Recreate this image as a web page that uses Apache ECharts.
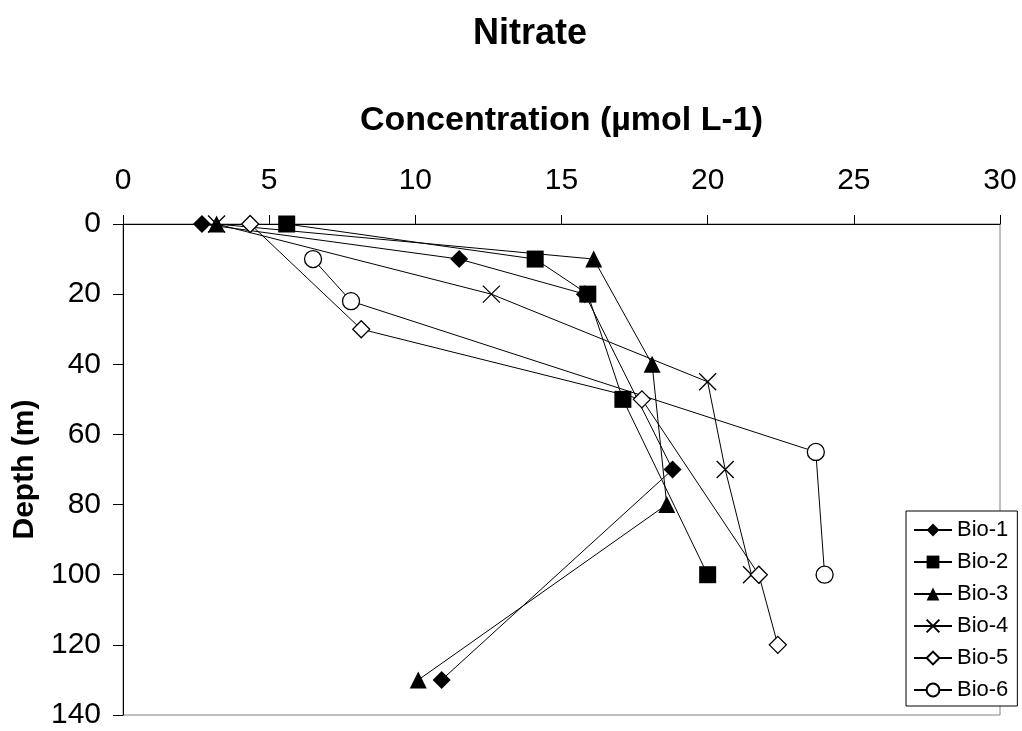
<!DOCTYPE html>
<html>
<head>
<meta charset="utf-8">
<script src="https://cdn.jsdelivr.net/npm/echarts@6/dist/echarts.min.js"></script>
<style>html,body{margin:0;padding:0;background:#fff;}#chart{width:1022px;height:731px;}</style>
</head>
<body>
<div id="chart"></div>
<script>
// Depth profiles: concentration (µmol L-1) at depth (m)
const seriesNames = ['Bio-1', 'Bio-2', 'Bio-3', 'Bio-4', 'Bio-5', 'Bio-6'];
const bio1Conc = [2.7, 11.5, 15.8, 18.8, 10.9];
const bio1Depth = [0, 10, 20, 70, 130];
const bio2Conc = [5.6, 14.1, 15.9, 17.1, 20.0];
const bio2Depth = [0, 10, 20, 50, 100];
const bio3Conc = [3.2, 16.1, 18.1, 18.6, 10.1];
const bio3Depth = [0, 10, 40, 80, 130];
const bio4Conc = [3.2, 12.6, 20.0, 20.6, 21.5];
const bio4Depth = [0, 20, 45, 70, 100];
const bio5Conc = [4.35, 8.15, 17.75, 21.75, 22.4];
const bio5Depth = [0, 30, 50, 100, 120];
const bio6Conc = [6.5, 7.8, 23.7, 24.0];
const bio6Depth = [10, 22, 65, 100];
const xTicks = [0, 5, 10, 15, 20, 25, 30];
const yTicks = [0, 20, 40, 60, 80, 100, 120, 140];

const FONT = '"Liberation Sans", Arial, sans-serif';
const pair = (c, d) => c.map((v, i) => [v, d[i]]);
const allData = [
  pair(bio1Conc, bio1Depth), pair(bio2Conc, bio2Depth), pair(bio3Conc, bio3Depth),
  pair(bio4Conc, bio4Depth), pair(bio5Conc, bio5Depth), pair(bio6Conc, bio6Depth)
];
const markers = [
  { symbol: 'diamond', size: 18, fill: '#000' },
  { symbol: 'rect', size: 17, fill: '#000' },
  { symbol: 'triangle', size: 17, fill: '#000' },
  { symbol: 'path://M0,0L10,10M10,0L0,10', size: 17, fill: '#000' },
  { symbol: 'diamond', size: 17, fill: '#fff' },
  { symbol: 'circle', size: 17, fill: '#fff' }
];

const chart = echarts.init(document.getElementById('chart'), null, { renderer: 'canvas' });
chart.setOption({
  animation: false,
  backgroundColor: '#fff',
  title: {
    text: 'Nitrate',
    left: 468, top: 11,
    textStyle: { fontFamily: FONT, fontSize: 36, fontWeight: 'bold', color: '#000' }
  },
  grid: {
    left: 123, top: 224, right: 22, bottom: 16,
    containLabel: false, outerBoundsMode: 'none',
    show: true, borderColor: '#808080', borderWidth: 1, backgroundColor: '#fff'
  },
  legend: {
    orient: 'vertical', left: 906, top: 511,
    padding: [8, 9, 5, 7],
    itemWidth: 38, itemHeight: 16, itemGap: 10,
    backgroundColor: '#fff', borderColor: '#000', borderWidth: 1,
    textStyle: { fontFamily: FONT, fontSize: 22, color: '#000' },
    data: seriesNames
  },
  xAxis: {
    type: 'value', position: 'top', min: xTicks[0], max: xTicks[xTicks.length - 1], interval: 5,
    name: 'Concentration (µmol L-1)', nameLocation: 'middle', nameGap: 86,
    nameTextStyle: { fontFamily: FONT, fontSize: 34, fontWeight: 'bold', color: '#000' },
    axisLine: { show: true, lineStyle: { color: '#000', width: 1 } },
    axisTick: { show: true, inside: false, length: 9, lineStyle: { color: '#000' } },
    axisLabel: { fontFamily: FONT, fontSize: 30, color: '#000', margin: 28 },
    splitLine: { show: false }
  },
  yAxis: {
    type: 'value', inverse: true, min: yTicks[0], max: yTicks[yTicks.length - 1], interval: 20,
    name: 'Depth (m)', nameLocation: 'middle', nameGap: 82, nameRotate: 90,
    nameTextStyle: { fontFamily: FONT, fontSize: 30, fontWeight: 'bold', color: '#000' },
    axisLine: { show: true, lineStyle: { color: '#000', width: 1 } },
    axisTick: { show: true, inside: false, length: 10, lineStyle: { color: '#000' } },
    axisLabel: { fontFamily: FONT, fontSize: 30, color: '#000', margin: 22 },
    splitLine: { show: false }
  },
  series: seriesNames.map((name, i) => ({
    name: name,
    type: 'line',
    data: allData[i],
    z: i === 3 ? 1 : 2,
    symbol: markers[i].symbol,
    symbolSize: markers[i].size,
    showAllSymbol: true,
    color: '#000',
    lineStyle: { color: '#000', width: 1 },
    itemStyle: { color: markers[i].fill, borderColor: '#000', borderWidth: (i >= 3) ? 1.3 : 0, opacity: 1 },
    emphasis: { disabled: true }
  }))
});
</script>
</body>
</html>
